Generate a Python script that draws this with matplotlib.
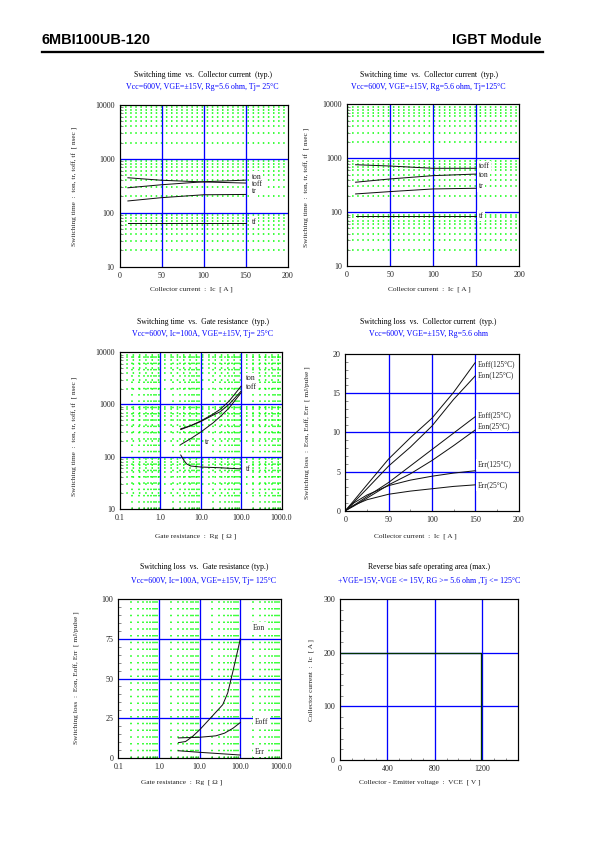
import numpy as np
import matplotlib.pyplot as plt
from matplotlib.lines import Line2D
from matplotlib.ticker import MultipleLocator, LogLocator, NullFormatter

plt.rcParams['font.family'] = ['Liberation Serif', 'DejaVu Serif']

# --- data ---
# switching time vs Ic, Tj=25C
ic_25 = [10, 50, 100, 150]
ton_25 = [290, 330, 375, 402]
toff_25 = [445, 400, 372, 355]
tr_25 = [165, 190, 215, 218]
tf_25 = [65, 65, 65, 65]

# switching time vs Ic, Tj=125C
ic_125 = [10, 50, 100, 150]
toff_125 = [761, 720, 653, 653]
ton_125 = [360, 414, 477, 510]
tr_125 = [218, 241, 270, 278]
tf_125 = [85, 85, 85, 85]

# switching time vs Rg, Tj=25C
rg_sw = [3.2, 5.6, 10, 20, 30, 50, 100]
ton_rg = [330, 390, 480, 650, 800, 1150, 2240]
toff_rg = [340, 390, 470, 620, 720, 1000, 1800]
tr_rg = [170, 220, 295, 440, 580, 850, 1680]
rg_tf = [3.2, 3.8, 4.5, 5.6, 10, 30, 100]
tf_rg = [107, 85, 72, 66, 63, 61, 58]

# switching loss vs Ic
ic_loss = [0, 10, 25, 50, 75, 100, 125, 150]
eoff_125 = [0, 1.3, 3.3, 6.6, 9.3, 11.8, 15.1, 18.9]
eon_125 = [0, 1.1, 2.8, 5.7, 8.1, 10.8, 14.2, 17.2]
eoff_25 = [0, 0.7, 1.8, 3.6, 5.7, 7.8, 9.9, 12.0]
eon_25 = [0, 0.6, 1.6, 3.3, 4.7, 6.4, 8.3, 10.3]
err_125 = [0, 1.0, 2.0, 3.2, 3.9, 4.4, 4.8, 5.1]
err_25 = [0, 0.7, 1.4, 2.1, 2.5, 2.8, 3.1, 3.3]

# switching loss vs Rg, Tj=125C
rg_eon = [3.0, 4.5, 6.6, 10, 20, 37, 49, 66, 100]
eon_rg = [9.5, 10.2, 13.3, 17.6, 26, 33.5, 40.9, 54.7, 75]
rg_eoff = [3.0, 10, 25, 41, 66, 100]
eoff_rg = [12.5, 12.9, 13.8, 15.5, 18.6, 22.2]
rg_err = [3.0, 10, 100]
err_rg = [4.4, 3.4, 1.7]

# RBSOA
vce_rbsoa = [0, 1190, 1190]
ic_rbsoa = [200, 200, 0]

W, H = 595, 842
BLUE = '#0000ff'
GREEN = '#00ff00'
INK = '#222222'
DOTS = (0, (1, 2.4))
TICK_FS = 8
AXLAB_FS = 7.4

fig = plt.figure(figsize=(W / 72, H / 72), dpi=72)


def px_axes(x0, y0, x1, y1):
    return fig.add_axes([x0 / W, 1 - y1 / H, (x1 - x0) / W, (y1 - y0) / H])


def px_text(x, y, s, **kw):
    fig.text(x / W, 1 - y / H, s, **kw)


def headings(cx, ty, sy, title, sub):
    px_text(cx, ty, title, ha='center', va='center', fontsize=7.8, color='black')
    px_text(cx, sy, sub, ha='center', va='center', fontsize=7.9, color=BLUE)


def base_style(ax):
    for s in ax.spines.values():
        s.set_linewidth(1.2)
        s.set_color('black')
        s.set_zorder(5)
    ax.tick_params(which='both', direction='in', labelsize=TICK_FS, labelcolor=INK,
                   color='#444444', top=False, right=False)
    ax.tick_params(which='major', length=0, pad=5)
    ax.tick_params(which='minor', length=2.5)
    ax.set_axisbelow(True)


def blue_grid(ax, xs, ys):
    for x in xs:
        ax.axvline(x, color=BLUE, linewidth=1.3, zorder=1)
    for y in ys:
        ax.axhline(y, color=BLUE, linewidth=1.3, zorder=1)


def green_grid(ax, axis, dots=DOTS):
    ax.grid(which='minor', axis=axis, color=GREEN, linestyle=dots, linewidth=1.5)


def curve_label(ax, x, y, s):
    ax.text(x, y, s, fontsize=7.5, color=INK, ha='left', va='center', zorder=3,
            bbox=dict(facecolor='white', edgecolor='none', pad=1.5))


def time_vs_ic(ax, ic, curves, labels):
    base_style(ax)
    ax.set_xlim(0, 200)
    ax.set_yscale('log')
    ax.set_ylim(10, 10000)
    ax.set_xticks([0, 50, 100, 150, 200])
    ax.set_yticks([10, 100, 1000, 10000])
    ax.set_yticklabels(['10', '100', '1000', '10000'])
    ax.xaxis.set_minor_locator(MultipleLocator(10))
    ax.yaxis.set_minor_locator(LogLocator(base=10, subs=np.arange(2, 10)))
    ax.yaxis.set_minor_formatter(NullFormatter())
    ax.tick_params(axis='x', which='minor', length=0)
    green_grid(ax, 'y')
    blue_grid(ax, [50, 100, 150], [100, 1000])
    for y in curves:
        ax.plot(ic, y, color='#111111', linewidth=1.0, zorder=2)
    for x, y, s in labels:
        curve_label(ax, x, y, s)


# ---------------- header ----------------
px_text(42, 40, '6MBI100UB-120', family='Liberation Sans', weight='bold',
        fontsize=14.5, va='center', ha='left')
px_text(542, 40, 'IGBT Module', family='Liberation Sans', weight='bold',
        fontsize=14.5, va='center', ha='right')
fig.add_artist(Line2D([42 / W, 543 / W], [1 - 51.5 / H] * 2, color='black', linewidth=2.3))

# ---------------- panel 1 ----------------
ax1 = px_axes(119.5, 105, 287.5, 266.5)
time_vs_ic(ax1, ic_25, [ton_25, toff_25, tr_25, tf_25],
           [(158, 460, 'ton'), (158, 340, 'toff'), (158, 250, 'tr'), (158, 66, 'tf')])
headings(202.5, 74.7, 86.7, 'Switching time  vs.  Collector current  (typ.)',
         'Vcc=600V, VGE=\u00b115V, Rg=5.6 ohm, Tj= 25\u00b0C')
px_text(191.7, 289.3, 'Collector current  :  Ic  [ A ]', ha='center', va='center',
        fontsize=AXLAB_FS, color=INK)
px_text(75, 186.7, 'Switching time  :  ton, tr, toff, tf  [ nsec ]', ha='center', va='center',
        rotation=90, fontsize=7.2, color=INK)

# ---------------- panel 2 ----------------
ax2 = px_axes(347, 104.5, 519, 266)
time_vs_ic(ax2, ic_125, [toff_125, ton_125, tr_125, tf_125],
           [(153, 720, 'toff'), (153, 480, 'ton'), (153, 300, 'tr'), (153, 85, 'tf')])
headings(428.5, 74.7, 86.7, 'Switching time  vs.  Collector current  (typ.)',
         'Vcc=600V, VGE=\u00b115V, Rg=5.6 ohm, Tj=125\u00b0C')
px_text(429.8, 289, 'Collector current  :  Ic  [ A ]', ha='center', va='center',
        fontsize=AXLAB_FS, color=INK)
px_text(307, 187, 'Switching time  :  ton, tr, toff, tf  [ nsec ]', ha='center', va='center',
        rotation=90, fontsize=7.2, color=INK)

# ---------------- panel 3 ----------------
ax3 = px_axes(120, 352.3, 281.5, 508.7)
base_style(ax3)
ax3.set_xscale('log')
ax3.set_yscale('log')
ax3.set_xlim(0.1, 1000)
ax3.set_ylim(10, 10000)
ax3.set_xticks([0.1, 1, 10, 100, 1000])
ax3.set_xticklabels(['0.1', '1.0', '10.0', '100.0', '1000.0'])
ax3.set_yticks([10, 100, 1000, 10000])
ax3.set_yticklabels(['10', '100', '1000', '10000'])
for axis in (ax3.xaxis, ax3.yaxis):
    axis.set_minor_locator(LogLocator(base=10, subs=np.arange(2, 10)))
    axis.set_minor_formatter(NullFormatter())
green_grid(ax3, 'x', (0, (1, 3.2)))
green_grid(ax3, 'y', (0, (1, 3.2)))
blue_grid(ax3, [1, 10, 100], [100, 1000])
for y in (ton_rg, toff_rg, tr_rg):
    ax3.plot(rg_sw, y, color='#111111', linewidth=1.0, zorder=2)
ax3.plot(rg_tf, tf_rg, color='#111111', linewidth=1.0, zorder=2)
curve_label(ax3, 130, 3180, 'ton')
curve_label(ax3, 130, 2135, 'toff')
curve_label(ax3, 13, 189, 'tr')
curve_label(ax3, 130, 58, 'tf')
headings(202.7, 321.7, 334, 'Switching time  vs.  Gate resistance  (typ.)',
         'Vcc=600V, Ic=100A, VGE=\u00b115V, Tj= 25\u00b0C')
px_text(195.8, 536, 'Gate resistance  :  Rg  [ \u03a9 ]', ha='center', va='center',
        fontsize=AXLAB_FS, color=INK)
px_text(75, 436, 'Switching time  :  ton, tr, toff, tf  [ nsec ]', ha='center', va='center',
        rotation=90, fontsize=7.2, color=INK)

# ---------------- panel 4 ----------------
ax4 = px_axes(345.3, 354, 518.5, 510.7)
base_style(ax4)
ax4.set_xlim(0, 200)
ax4.set_ylim(0, 20)
ax4.set_xticks([0, 50, 100, 150, 200])
ax4.set_yticks([0, 5, 10, 15, 20])
ax4.xaxis.set_minor_locator(MultipleLocator(25))
ax4.yaxis.set_minor_locator(MultipleLocator(1))
blue_grid(ax4, [50, 100, 150], [5, 10, 15])
for y in (eoff_125, eon_125, eoff_25, eon_25, err_125, err_25):
    ax4.plot(ic_loss, y, color='#111111', linewidth=1.0, zorder=2)
curve_label(ax4, 153, 18.7, 'Eoff(125\u00b0C)')
curve_label(ax4, 153, 17.3, 'Eon(125\u00b0C)')
curve_label(ax4, 153, 12.2, 'Eoff(25\u00b0C)')
curve_label(ax4, 153, 10.8, 'Eon(25\u00b0C)')
curve_label(ax4, 153, 5.9, 'Err(125\u00b0C)')
curve_label(ax4, 153, 3.2, 'Err(25\u00b0C)')
headings(428.3, 321.7, 334.3, 'Switching loss  vs.  Collector current  (typ.)',
         'Vcc=600V, VGE=\u00b115V, Rg=5.6 ohm')
px_text(415, 536, 'Collector current  :  Ic  [ A ]', ha='center', va='center',
        fontsize=AXLAB_FS, color=INK)
px_text(308, 433, 'Switching loss  :  Eon, Eoff, Err  [ mJ/pulse ]', ha='center', va='center',
        rotation=90, fontsize=7.2, color=INK)

# ---------------- panel 5 ----------------
ax5 = px_axes(118.3, 599.3, 281, 757.7)
base_style(ax5)
ax5.set_xscale('log')
ax5.set_xlim(0.1, 1000)
ax5.set_ylim(0, 100)
ax5.set_xticks([0.1, 1, 10, 100, 1000])
ax5.set_xticklabels(['0.1', '1.0', '10.0', '100.0', '1000.0'])
ax5.set_yticks([0, 25, 50, 75, 100])
ax5.xaxis.set_minor_locator(LogLocator(base=10, subs=np.arange(2, 10)))
ax5.xaxis.set_minor_formatter(NullFormatter())
ax5.yaxis.set_minor_locator(MultipleLocator(5))
green_grid(ax5, 'x', (0, (1, 3.5)))
blue_grid(ax5, [1, 10, 100], [25, 50, 75])
ax5.plot(rg_eon, eon_rg, color='#111111', linewidth=1.0, zorder=2)
ax5.plot(rg_eoff, eoff_rg, color='#111111', linewidth=1.0, zorder=2)
ax5.plot(rg_err, err_rg, color='#111111', linewidth=1.0, zorder=2)
curve_label(ax5, 200, 82, 'Eon')
curve_label(ax5, 225, 22.8, 'Eoff')
curve_label(ax5, 225, 3.8, 'Err')
headings(204, 567.3, 580.7, 'Switching loss  vs.  Gate resistance (typ.)',
         'Vcc=600V, Ic=100A, VGE=\u00b115V, Tj= 125\u00b0C')
px_text(182, 782.7, 'Gate resistance  :  Rg  [ \u03a9 ]', ha='center', va='center',
        fontsize=AXLAB_FS, color=INK)
px_text(77, 678, 'Switching loss  :  Eon, Eoff, Err  [ mJ/pulse ]', ha='center', va='center',
        rotation=90, fontsize=7.2, color=INK)

# ---------------- panel 6 ----------------
ax6 = px_axes(340, 599, 517.7, 760)
base_style(ax6)
ax6.set_xlim(0, 1500)
ax6.set_ylim(0, 300)
ax6.set_xticks([0, 400, 800, 1200])
ax6.set_yticks([0, 100, 200, 300])
ax6.xaxis.set_minor_locator(MultipleLocator(100))
ax6.yaxis.set_minor_locator(MultipleLocator(20))
blue_grid(ax6, [400, 800, 1200], [100, 200])
ax6.plot(vce_rbsoa, ic_rbsoa, color='#003300', linewidth=1.3, zorder=2)
headings(429, 567.3, 580.7, 'Reverse bias safe operating area (max.)',
         '+VGE=15V,-VGE <= 15V, RG >= 5.6 ohm ,Tj <= 125\u00b0C')
px_text(419.5, 782.7, 'Collector - Emitter voltage  :  VCE  [ V ]', ha='center', va='center',
        fontsize=AXLAB_FS, color=INK)
px_text(311, 680, 'Collector current  :  Ic  [ A ]', ha='center', va='center',
        rotation=90, fontsize=7.2, color=INK)

fig.savefig('out.png', dpi=72)
